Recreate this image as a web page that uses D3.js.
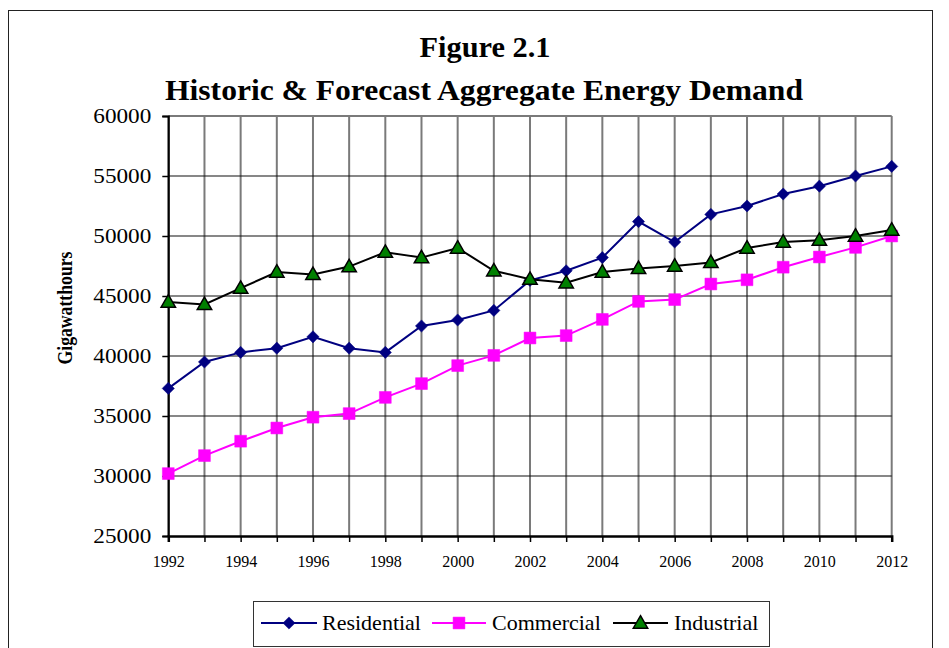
<!DOCTYPE html>
<html>
<head>
<meta charset="utf-8">
<script src="https://cdn.jsdelivr.net/npm/d3@7"></script>
<style>
  body { margin: 0; background: #fff; }
  svg { display: block; }
  text { font-family: "Liberation Serif", "Times New Roman", serif; fill: #000; }
</style>
</head>
<body>
<svg id="chart" width="949" height="648"></svg>
<script>
const years = d3.range(1992, 2013);
const yTicks = [25000, 30000, 35000, 40000, 45000, 50000, 55000, 60000];
const xLabelYears = [1992, 1994, 1996, 1998, 2000, 2002, 2004, 2006, 2008, 2010, 2012];

const residential = [37300, 39500, 40300, 40650, 41600, 40650, 40300, 42500, 43000, 43800, 46300,
                     47100, 48200, 51200, 49500, 51800, 52500, 53500, 54150, 55000, 55800];
const commercial  = [30200, 31700, 32900, 34000, 34900, 35200, 36550, 37700, 39200, 40050, 41500,
                     41700, 43050, 44550, 44700, 46000, 46350, 47400, 48250, 49050, 50000];
const industrial  = [44500, 44300, 45650, 47000, 46800, 47450, 48650, 48200, 49000, 47100, 46400,
                     46100, 47000, 47300, 47500, 47800, 49000, 49500, 49650, 50000, 50500];

const seriesNames = ["Residential", "Commercial", "Industrial"];
const titleLines = ["Figure 2.1", "Historic & Forecast Aggregate Energy Demand"];
const yAxisTitle = "Gigawatthours";

const svg = d3.select("#chart");

// outer border
svg.append("rect").attr("x", 8.5).attr("y", 10.5).attr("width", 924).attr("height", 660)
  .attr("fill", "none").attr("stroke", "#222").attr("stroke-width", 1);

const x = d3.scaleLinear().domain([1992, 2012]).range([168.3, 891.7]);
const y = d3.scaleLinear().domain([25000, 60000]).range([536, 116]);

// title
svg.append("text").attr("x", 485).attr("y", 57).attr("text-anchor", "middle")
  .attr("font-size", 30).attr("font-weight", "bold")
  .attr("textLength", 131).attr("lengthAdjust", "spacingAndGlyphs").text(titleLines[0]);
svg.append("text").attr("x", 484).attr("y", 100).attr("text-anchor", "middle")
  .attr("font-size", 30).attr("font-weight", "bold")
  .attr("textLength", 638).attr("lengthAdjust", "spacingAndGlyphs").text(titleLines[1]);

// gridlines: vertical
svg.append("g").selectAll("line").data(years).join("line")
  .attr("x1", d => x(d)).attr("x2", d => x(d))
  .attr("y1", y(60000)).attr("y2", y(25000))
  .attr("stroke", "#7a7a7a").attr("stroke-width", 2);

// gridlines: horizontal
svg.append("g").selectAll("line").data(yTicks.filter(v => v > 25000)).join("line")
  .attr("x1", x(1992)).attr("x2", x(2012))
  .attr("y1", d => y(d)).attr("y2", d => y(d))
  .attr("stroke", d => d === 60000 ? "#7a7a7a" : "#111").attr("stroke-width", d => d === 60000 ? 2 : 1.2);

// y axis
const yAxis = svg.append("g").attr("transform", `translate(${x(1992)},0)`)
  .call(d3.axisLeft(y).tickValues(yTicks).tickSize(6).tickFormat(d3.format("d")));
yAxis.select(".domain").attr("stroke", "#000").attr("stroke-width", 2);
yAxis.selectAll(".tick line").attr("stroke", "#000").attr("stroke-width", 1.5);
yAxis.selectAll(".tick text").attr("x", -17).attr("dy", "0.32em")
  .attr("font-size", 20).attr("font-family", "Liberation Serif, Times New Roman, serif")
  .attr("textLength", 58).attr("lengthAdjust", "spacingAndGlyphs");

// x axis
const xAxis = svg.append("g").attr("transform", `translate(0,${y(25000)})`)
  .call(d3.axisBottom(x).tickValues(years).tickSize(6)
    .tickFormat(d => xLabelYears.includes(d) ? String(d) : ""));
xAxis.select(".domain").attr("stroke", "#000").attr("stroke-width", 2.5);
xAxis.selectAll(".tick line").attr("stroke", "#000").attr("stroke-width", 1.5);
xAxis.selectAll(".tick text").attr("y", 31).attr("dy", "0")
  .attr("font-size", 16).attr("font-family", "Liberation Serif, Times New Roman, serif");

// y axis title
svg.append("text").attr("transform", "translate(72,308) rotate(-90)")
  .attr("text-anchor", "middle").attr("font-size", 20).attr("font-weight", "bold")
  .attr("textLength", 113).attr("lengthAdjust", "spacingAndGlyphs").text(yAxisTitle);

// series
const sym = {
  diamond: d3.symbol().type(d3.symbolDiamond2).size(95),
  square: d3.symbol().type(d3.symbolSquare).size(140),
  triangle: d3.symbol().type(d3.symbolTriangle).size(90)
};
const series = [
  { name: seriesNames[0], values: residential, color: "#000080", marker: "diamond", fill: "#000080", mstroke: "#000080" },
  { name: seriesNames[1], values: commercial, color: "#ff00ff", marker: "square", fill: "#ff00ff", mstroke: "#ff00ff" },
  { name: seriesNames[2], values: industrial, color: "#000000", marker: "triangle", fill: "#008000", mstroke: "#000000" }
];

const line = d3.line().x((d, i) => x(years[i])).y(d => y(d));

series.forEach(s => {
  const g = svg.append("g");
  g.append("path").datum(s.values).attr("d", line)
    .attr("fill", "none").attr("stroke", s.color).attr("stroke-width", 2);
  g.selectAll("path.m").data(s.values).join("path").attr("class", "m")
    .attr("transform", (d, i) => `translate(${x(years[i])},${y(d) + (s.marker === "triangle" ? 1 : 0)})`)
    .attr("d", sym[s.marker]).attr("fill", s.fill)
    .attr("stroke", s.mstroke).attr("stroke-width", s.marker === "triangle" ? 1.5 : 0.5);
});

// legend
const lg = svg.append("g");
lg.append("rect").attr("x", 253.5).attr("y", 601.5).attr("width", 516).attr("height", 45)
  .attr("fill", "#fff").attr("stroke", "#333").attr("stroke-width", 1);
const legendItems = [
  { s: series[0], x1: 261, x2: 317, tx: 322 },
  { s: series[1], x1: 432, x2: 486, tx: 492 },
  { s: series[2], x1: 613, x2: 668, tx: 674 }
];
legendItems.forEach(it => {
  lg.append("line").attr("x1", it.x1).attr("x2", it.x2).attr("y1", 623).attr("y2", 623)
    .attr("stroke", it.s.color).attr("stroke-width", 2);
  lg.append("path").attr("transform", `translate(${(it.x1 + it.x2) / 2},${623 + (it.s.marker === "triangle" ? 1 : 0)})`)
    .attr("d", sym[it.s.marker]).attr("fill", it.s.fill)
    .attr("stroke", it.s.mstroke).attr("stroke-width", it.s.marker === "triangle" ? 1.5 : 0.5);
  lg.append("text").attr("x", it.tx).attr("y", 630).attr("font-size", 22).text(it.s.name);
});
</script>
</body>
</html>
